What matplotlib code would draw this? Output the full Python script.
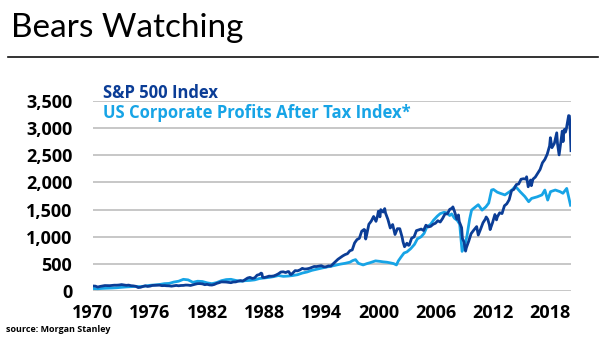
import numpy as np
import matplotlib.pyplot as plt
from matplotlib.ticker import FuncFormatter, FixedLocator

# S&P 500 quarter-end closes, Q4 1969 .. Q1 2020
sp_quarterly = [
    92.1,
    89.6, 72.7, 84.3, 92.2,
    100.3, 99.0, 98.3, 102.1,
    107.2, 107.1, 110.6, 118.1,
    111.5, 104.3, 108.4, 97.6,
    94.0, 86.0, 63.5, 68.6,
    83.4, 95.2, 83.9, 90.2,
    102.8, 104.3, 105.2, 107.5,
    98.4, 100.5, 96.5, 95.1,
    89.2, 95.5, 102.5, 96.1,
    101.6, 102.9, 109.3, 107.9,
    102.1, 114.2, 125.5, 135.8,
    136.0, 131.2, 116.2, 122.6,
    112.0, 109.6, 120.4, 140.6,
    153.0, 168.1, 166.1, 164.9,
    159.2, 153.2, 166.1, 167.2,
    180.7, 191.9, 182.1, 211.3,
    238.9, 250.8, 231.3, 242.2,
    291.7, 304.0, 321.8, 247.1,
    258.9, 273.5, 271.9, 277.7,
    294.9, 318.0, 349.2, 353.4,
    339.9, 358.0, 306.1, 330.2,
    375.2, 371.2, 387.9, 417.1,
    403.7, 408.1, 417.8, 435.7,
    451.7, 450.5, 458.9, 466.5,
    445.8, 444.3, 462.7, 459.3,
    500.7, 544.8, 584.4, 615.9,
    645.5, 670.6, 687.3, 740.7,
    757.1, 885.1, 947.3, 970.4,
    1101.8, 1133.8, 1017.0, 1229.2,
    1286.4, 1372.7, 1282.7, 1469.3,
    1498.6, 1454.6, 1436.5, 1320.3,
    1160.3, 1224.4, 1040.9, 1148.1,
    1147.4, 989.8, 815.3, 879.8,
    848.2, 974.5, 996.0, 1111.9,
    1126.2, 1140.8, 1114.6, 1211.9,
    1180.6, 1191.3, 1228.8, 1248.3,
    1294.8, 1270.2, 1335.8, 1418.3,
    1420.9, 1503.4, 1526.8, 1468.4,
    1322.7, 1280.0, 1166.4, 903.3,
    797.9, 919.3, 1057.1, 1115.1,
    1169.4, 1030.7, 1141.2, 1257.6,
    1325.8, 1320.6, 1131.4, 1257.6,
    1408.5, 1362.2, 1440.7, 1426.2,
    1569.2, 1606.3, 1681.6, 1848.4,
    1872.3, 1960.2, 1972.3, 2058.9,
    2067.9, 2063.1, 1920.0, 2043.9,
    2059.7, 2098.9, 2168.3, 2238.8,
    2362.7, 2423.4, 2519.4, 2673.6,
    2640.9, 2718.4, 2914.0, 2506.9,
    2834.4, 2941.8, 2976.7, 3230.8,
    2584.6,
]
sp_quarter_dates = 1970.0 + 0.25 * np.arange(len(sp_quarterly))

# a few month-end closes at the turning points
sp_month_dates = [1987.667, 1987.833, 1990.583, 1990.833, 1998.583, 1998.667,
                  1999.917, 2000.167, 2000.667, 2002.583, 2003.167, 2007.833,
                  2008.417, 2008.833, 2009.167, 2010.333, 2011.333, 2011.667,
                  2012.417, 2015.583, 2016.083, 2018.083, 2018.833, 2019.333,
                  2019.417, 2019.583, 2019.667, 2020.083, 2020.167]
sp_month_values = [329.8, 251.8, 356.2, 304.0, 1120.7, 957.3,
                   1389.0, 1366.4, 1517.7, 911.6, 841.2, 1549.4,
                   1400.4, 968.8, 735.1, 1186.7, 1363.6, 1218.9,
                   1310.3, 2103.8, 1940.2, 2823.8, 2711.7, 2945.8,
                   2752.1, 2980.4, 2926.5, 3225.5, 2954.2]

# corporate profits after tax, index
cp_dates = [1970.0, 1970.5, 1971.0, 1971.5, 1972.0, 1972.5, 1973.0, 1973.5,
            1974.0, 1974.5, 1975.0, 1975.5, 1976.0, 1976.5, 1977.0, 1977.5,
            1978.0, 1978.5, 1979.0, 1979.5, 1980.0, 1980.5, 1981.0, 1981.5,
            1982.0, 1982.5, 1983.0, 1983.5, 1984.0, 1984.5, 1985.0, 1985.5,
            1986.0, 1986.5, 1987.0, 1987.5, 1988.0, 1988.5, 1989.0, 1989.5,
            1990.0, 1990.5, 1991.0, 1991.5, 1992.0, 1992.5, 1993.0, 1993.5,
            1994.0, 1994.5, 1995.0, 1995.5, 1996.0, 1996.5, 1997.0, 1997.3,
            1997.6, 1997.9, 1998.4, 1998.8, 1999.1, 1999.7, 2000.2, 2000.5,
            2000.9, 2001.2, 2001.6, 2001.9, 2002.1, 2002.4, 2002.7, 2003.0,
            2003.4, 2003.8, 2004.1, 2004.5, 2004.8, 2005.1, 2005.5, 2005.8,
            2006.2, 2006.5, 2006.9, 2007.2, 2007.5, 2007.7, 2008.0, 2008.3,
            2008.55, 2008.8, 2009.1, 2009.3, 2009.6, 2009.8, 2010.0, 2010.5,
            2010.9, 2011.3, 2011.6, 2011.9, 2012.1, 2012.5, 2012.8, 2013.3,
            2013.8, 2014.1, 2014.4, 2014.9, 2015.4, 2015.8, 2016.1, 2016.7,
            2017.2, 2017.5, 2017.8, 2018.1, 2018.6, 2019.1, 2019.4, 2019.8,
            2020.2]
cp_values = [45, 42, 48, 52, 55, 60, 68, 75,
             80, 85, 80, 92, 105, 112, 120, 135,
             140, 165, 180, 215, 205, 160, 180, 175,
             150, 135, 155, 190, 210, 215, 195, 180,
             190, 195, 205, 230, 240, 250, 265, 285,
             270, 275, 285, 300, 330, 350, 380, 400,
             420, 440, 455, 475, 495, 510, 530, 560,
             578, 510, 480, 505, 520, 555, 545, 537,
             530, 520, 505, 480, 555, 630, 700, 720,
             780, 860, 960, 1000, 1060, 1180, 1230, 1305,
             1380, 1425, 1450, 1440, 1390, 1420, 1340, 1300,
             1230, 730, 850, 1000, 1330, 1490, 1520, 1590,
             1490, 1550, 1620, 1860, 1870, 1820, 1800, 1770,
             1830, 1870, 1930, 1830, 1740, 1645, 1705, 1735,
             1770, 1860, 1675, 1830, 1860, 1830, 1800, 1890,
             1580]

year_ticks = [1970, 1976, 1982, 1988, 1994, 2000, 2006, 2012, 2018]
value_ticks = [0, 500, 1000, 1500, 2000, 2500, 3000, 3500]

dark_blue = '#0b3d96'
light_blue = '#17a4e6'

sp_t = np.concatenate([sp_quarter_dates, sp_month_dates])
sp_v = np.concatenate([sp_quarterly, sp_month_values])
order = np.argsort(sp_t)
sp_t, sp_v = sp_t[order], sp_v[order]

plt.rcParams['font.family'] = ['Open Sans', 'DejaVu Sans']

fig = plt.figure(figsize=(6.05, 3.41), dpi=100)
ax = fig.add_axes([93 / 605, 1 - 291 / 341, 478 / 605, 190 / 341])

ax.plot(cp_dates, cp_values, color=light_blue, lw=2.0, zorder=3)
ax.plot(sp_t, sp_v, color=dark_blue, lw=2.0, zorder=4)

ax.set_xlim(1970, 2020.25)
ax.set_ylim(0, 3500)
ax.xaxis.set_major_locator(FixedLocator(year_ticks))
ax.yaxis.set_major_locator(FixedLocator(value_ticks))
ax.yaxis.set_major_formatter(FuncFormatter(lambda v, p: f'{int(v):,}'))
ax.grid(axis='y', color='#bdbdbd', lw=1.2)
ax.set_axisbelow(True)
for s in ax.spines.values():
    s.set_visible(False)
ax.tick_params(length=0)
ax.tick_params(axis='y', pad=15, labelsize=13)
ax.tick_params(axis='x', pad=9, labelsize=13)
for lbl in ax.get_xticklabels() + ax.get_yticklabels():
    lbl.set_fontweight('bold')

fig.text(103 / 605, 1 - 93 / 341, 'S&P 500 Index', color=dark_blue,
         fontsize=12, fontweight='bold', va='center', ha='left')
fig.text(103 / 605, 1 - 113 / 341, 'US Corporate Profits After Tax Index*',
         color=light_blue, fontsize=12, fontweight='bold', va='center', ha='left')

fig.text(11 / 605, 1 - 37 / 341, 'Bears Watching', fontsize=24,
         family=['Lato', 'DejaVu Sans'], fontweight='normal', color='black',
         va='baseline')
fig.add_artist(plt.Line2D([8 / 605, 598 / 605], [1 - 57 / 341, 1 - 57 / 341],
                          color='#111111', lw=1.2))

fig.text(6 / 605, 1 - 330 / 341, 'source: Morgan Stanley', fontsize=6.5,
         fontweight='bold', va='center')

fig.savefig('out.png', dpi=100)
